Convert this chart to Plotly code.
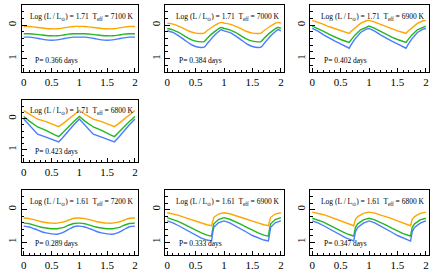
import plotly.graph_objects as go

# ---------------- data (one pulsation cycle per curve, shown over two cycles) -------------
titles = ["Log (L / L<sub>⊙</sub>) = 1.71  T<sub>eff</sub> = 7100 K",
          "Log (L / L<sub>⊙</sub>) = 1.71  T<sub>eff</sub> = 7000 K",
          "Log (L / L<sub>⊙</sub>) = 1.71  T<sub>eff</sub> = 6900 K",
          "Log (L / L<sub>⊙</sub>) = 1.71  T<sub>eff</sub> = 6800 K",
          "Log (L / L<sub>⊙</sub>) = 1.61  T<sub>eff</sub> = 7200 K",
          "Log (L / L<sub>⊙</sub>) = 1.61  T<sub>eff</sub> = 6900 K",
          "Log (L / L<sub>⊙</sub>) = 1.61  T<sub>eff</sub> = 6800 K"]
periods = ["P= 0.366 days", "P= 0.384 days", "P= 0.402 days", "P= 0.423 days",
           "P= 0.289 days", "P= 0.333 days", "P= 0.347 days"]

phase1 = [0, 0.1, 0.2, 0.3, 0.4, 0.5, 0.6, 0.7, 0.8, 0.9, 1.0]
orange1 = [0.04, 0.04, 0.06, 0.08, 0.10, 0.11, 0.11, 0.09, 0.06, 0.04, 0.04]
green1 = [0.26, 0.26, 0.27, 0.29, 0.31, 0.32, 0.32, 0.30, 0.27, 0.26, 0.26]
blue1 = [0.36, 0.36, 0.38, 0.41, 0.44, 0.45, 0.44, 0.41, 0.38, 0.36, 0.36]

phase2 = [0, 0.1, 0.2, 0.3, 0.4, 0.5, 0.6, 0.65, 0.7, 0.8, 0.9, 0.95, 1.0]
orange2 = [-0.06, -0.03, 0.03, 0.11, 0.19, 0.24, 0.25, 0.24, 0.17, 0.05, -0.05, -0.08, -0.06]
green2 = [0.10, 0.14, 0.22, 0.32, 0.42, 0.48, 0.50, 0.49, 0.40, 0.24, 0.11, 0.07, 0.10]
blue2 = [0.17, 0.22, 0.32, 0.44, 0.56, 0.64, 0.67, 0.66, 0.56, 0.36, 0.20, 0.14, 0.17]

phase3 = [0, 0.1, 0.2, 0.3, 0.4, 0.5, 0.6, 0.65, 0.68, 0.75, 0.85, 0.95, 1.0]
orange3 = [-0.14, -0.09, -0.02, 0.05, 0.11, 0.17, 0.22, 0.25, 0.19, 0.08, -0.05, -0.13, -0.14]
green3 = [0.03, 0.10, 0.19, 0.28, 0.36, 0.43, 0.49, 0.52, 0.45, 0.30, 0.14, 0.05, 0.03]
blue3 = [0.10, 0.18, 0.29, 0.39, 0.48, 0.56, 0.64, 0.69, 0.60, 0.42, 0.22, 0.12, 0.10]

phase4 = [0, 0.1, 0.25, 0.4, 0.55, 0.63, 0.7, 0.8, 0.9, 1.0]
orange4 = [-0.26, -0.14, 0.02, 0.10, 0.20, 0.26, 0.17, 0.02, -0.12, -0.26]
green4 = [-0.07, 0.08, 0.27, 0.38, 0.52, 0.58, 0.46, 0.26, 0.09, -0.07]
blue4 = [0.01, 0.20, 0.50, 0.60, 0.70, 0.75, 0.62, 0.40, 0.20, 0.01]

phase5 = [0, 0.1, 0.2, 0.3, 0.4, 0.5, 0.6, 0.7, 0.8, 0.9, 1.0]
orange5 = [0.26, 0.28, 0.32, 0.37, 0.40, 0.42, 0.42, 0.39, 0.33, 0.27, 0.26]
green5 = [0.42, 0.44, 0.49, 0.54, 0.57, 0.59, 0.59, 0.56, 0.49, 0.43, 0.42]
blue5 = [0.51, 0.54, 0.60, 0.67, 0.72, 0.75, 0.76, 0.71, 0.62, 0.53, 0.51]

phase6 = [0, 0.1, 0.2, 0.3, 0.4, 0.5, 0.6, 0.7, 0.78, 0.8, 0.82, 0.9, 1.0]
orange6 = [0.10, 0.13, 0.18, 0.24, 0.30, 0.36, 0.42, 0.47, 0.50, 0.35, 0.24, 0.14, 0.10]
green6 = [0.25, 0.30, 0.37, 0.46, 0.55, 0.64, 0.72, 0.79, 0.82, 0.60, 0.44, 0.31, 0.25]
blue6 = [0.35, 0.41, 0.50, 0.60, 0.70, 0.80, 0.88, 0.94, 0.97, 0.72, 0.55, 0.41, 0.35]

phase7 = [0, 0.1, 0.2, 0.3, 0.4, 0.5, 0.6, 0.7, 0.73, 0.76, 0.8, 0.9, 1.0]
orange7 = [0.08, 0.11, 0.16, 0.22, 0.28, 0.35, 0.42, 0.48, 0.50, 0.30, 0.22, 0.12, 0.08]
green7 = [0.27, 0.32, 0.39, 0.48, 0.57, 0.66, 0.74, 0.80, 0.82, 0.55, 0.44, 0.32, 0.27]
blue7 = [0.35, 0.41, 0.50, 0.60, 0.70, 0.80, 0.88, 0.94, 0.97, 0.68, 0.55, 0.42, 0.35]

x_ticks = [0, 0.5, 1, 1.5, 2]
x_tick_labels = ["0", "0.5", "1", "1.5", "2"]
y_ticks = [0, 1]
y_tick_labels = ["0", "1"]

panels = [
    (phase1, orange1, green1, blue1),
    (phase2, orange2, green2, blue2),
    (phase3, orange3, green3, blue3),
    (phase4, orange4, green4, blue4),
    (phase5, orange5, green5, blue5),
    (phase6, orange6, green6, blue6),
    (phase7, orange7, green7, blue7),
]

# ---------------- layout -------------
W, H = 436, 276
cols = [(21.5, 138), (165, 284), (310, 429)]
rows = [(5, 72), (100, 162), (190, 255)]
grid = [(0, 0), (0, 1), (0, 2), (1, 0), (2, 0), (2, 1), (2, 2)]
colors = ["#FFA500", "#22B822", "#4B7BFF"]
smooth = [True, True, False, False, True, False, False]
FONT = "Liberation Serif"

fig = go.Figure()
layout = {}
for i, ((ph, o, g, b), (r, c)) in enumerate(zip(panels, grid)):
    n = i + 1
    xa = "x" if n == 1 else f"x{n}"
    ya = "y" if n == 1 else f"y{n}"
    xph = list(ph) + [p + 1 for p in ph[1:]]
    for vals, col in zip((o, g, b), colors):
        yv = list(vals) + list(vals[1:])
        fig.add_trace(go.Scatter(
            x=xph, y=yv, mode="lines", xaxis=xa, yaxis=ya,
            line=dict(color=col, width=1.4,
                      shape="spline" if smooth[i] else "linear", smoothing=0.8),
            showlegend=False, hoverinfo="skip"))
    x0, x1 = cols[c]
    y0, y1 = rows[r]
    layout["xaxis" if n == 1 else f"xaxis{n}"] = dict(
        domain=[x0 / W, x1 / W], anchor=ya, range=[-0.04, 2.055],
        tickvals=x_ticks, ticktext=x_tick_labels, ticks="inside", ticklen=4,
        tickcolor="black", showline=True, linecolor="black", linewidth=1,
        mirror=True, showgrid=False, zeroline=False,
        tickfont=dict(family=FONT, size=11, color="black"),
        minor=dict(dtick=0.1, tick0=0, ticks="inside", ticklen=2.5, tickcolor="black"))
    layout["yaxis" if n == 1 else f"yaxis{n}"] = dict(
        domain=[1 - y1 / H, 1 - y0 / H], anchor=xa, range=[1.4, -0.6],
        tickvals=y_ticks, ticktext=y_tick_labels, ticks="inside", ticklen=5,
        tickangle=-90, tickcolor="black", showline=True, linecolor="black",
        linewidth=1, mirror=True, showgrid=False, zeroline=False,
        tickfont=dict(family=FONT, size=11, color="black"),
        minor=dict(dtick=0.2, tick0=0, ticks="inside", ticklen=2.5, tickcolor="black"))
    fig.add_annotation(x=2.02, y=-0.24, xref=xa, yref=ya, text=titles[i],
                       showarrow=False, xanchor="right", yanchor="middle",
                       font=dict(family=FONT, size=7.5, color="black"))
    fig.add_annotation(x=0.17, y=1.05, xref=xa, yref=ya, text=periods[i],
                       showarrow=False, xanchor="left", yanchor="middle",
                       font=dict(family=FONT, size=7.5, color="black"))

fig.update_layout(width=W, height=H, margin=dict(l=0, r=0, t=0, b=0),
                  paper_bgcolor="white", plot_bgcolor="white", **layout)
fig.write_html("out.html", config={"displayModeBar": False},
               post_script="document.body.style.margin='0';"
                           "document.body.style.overflow='hidden';")
